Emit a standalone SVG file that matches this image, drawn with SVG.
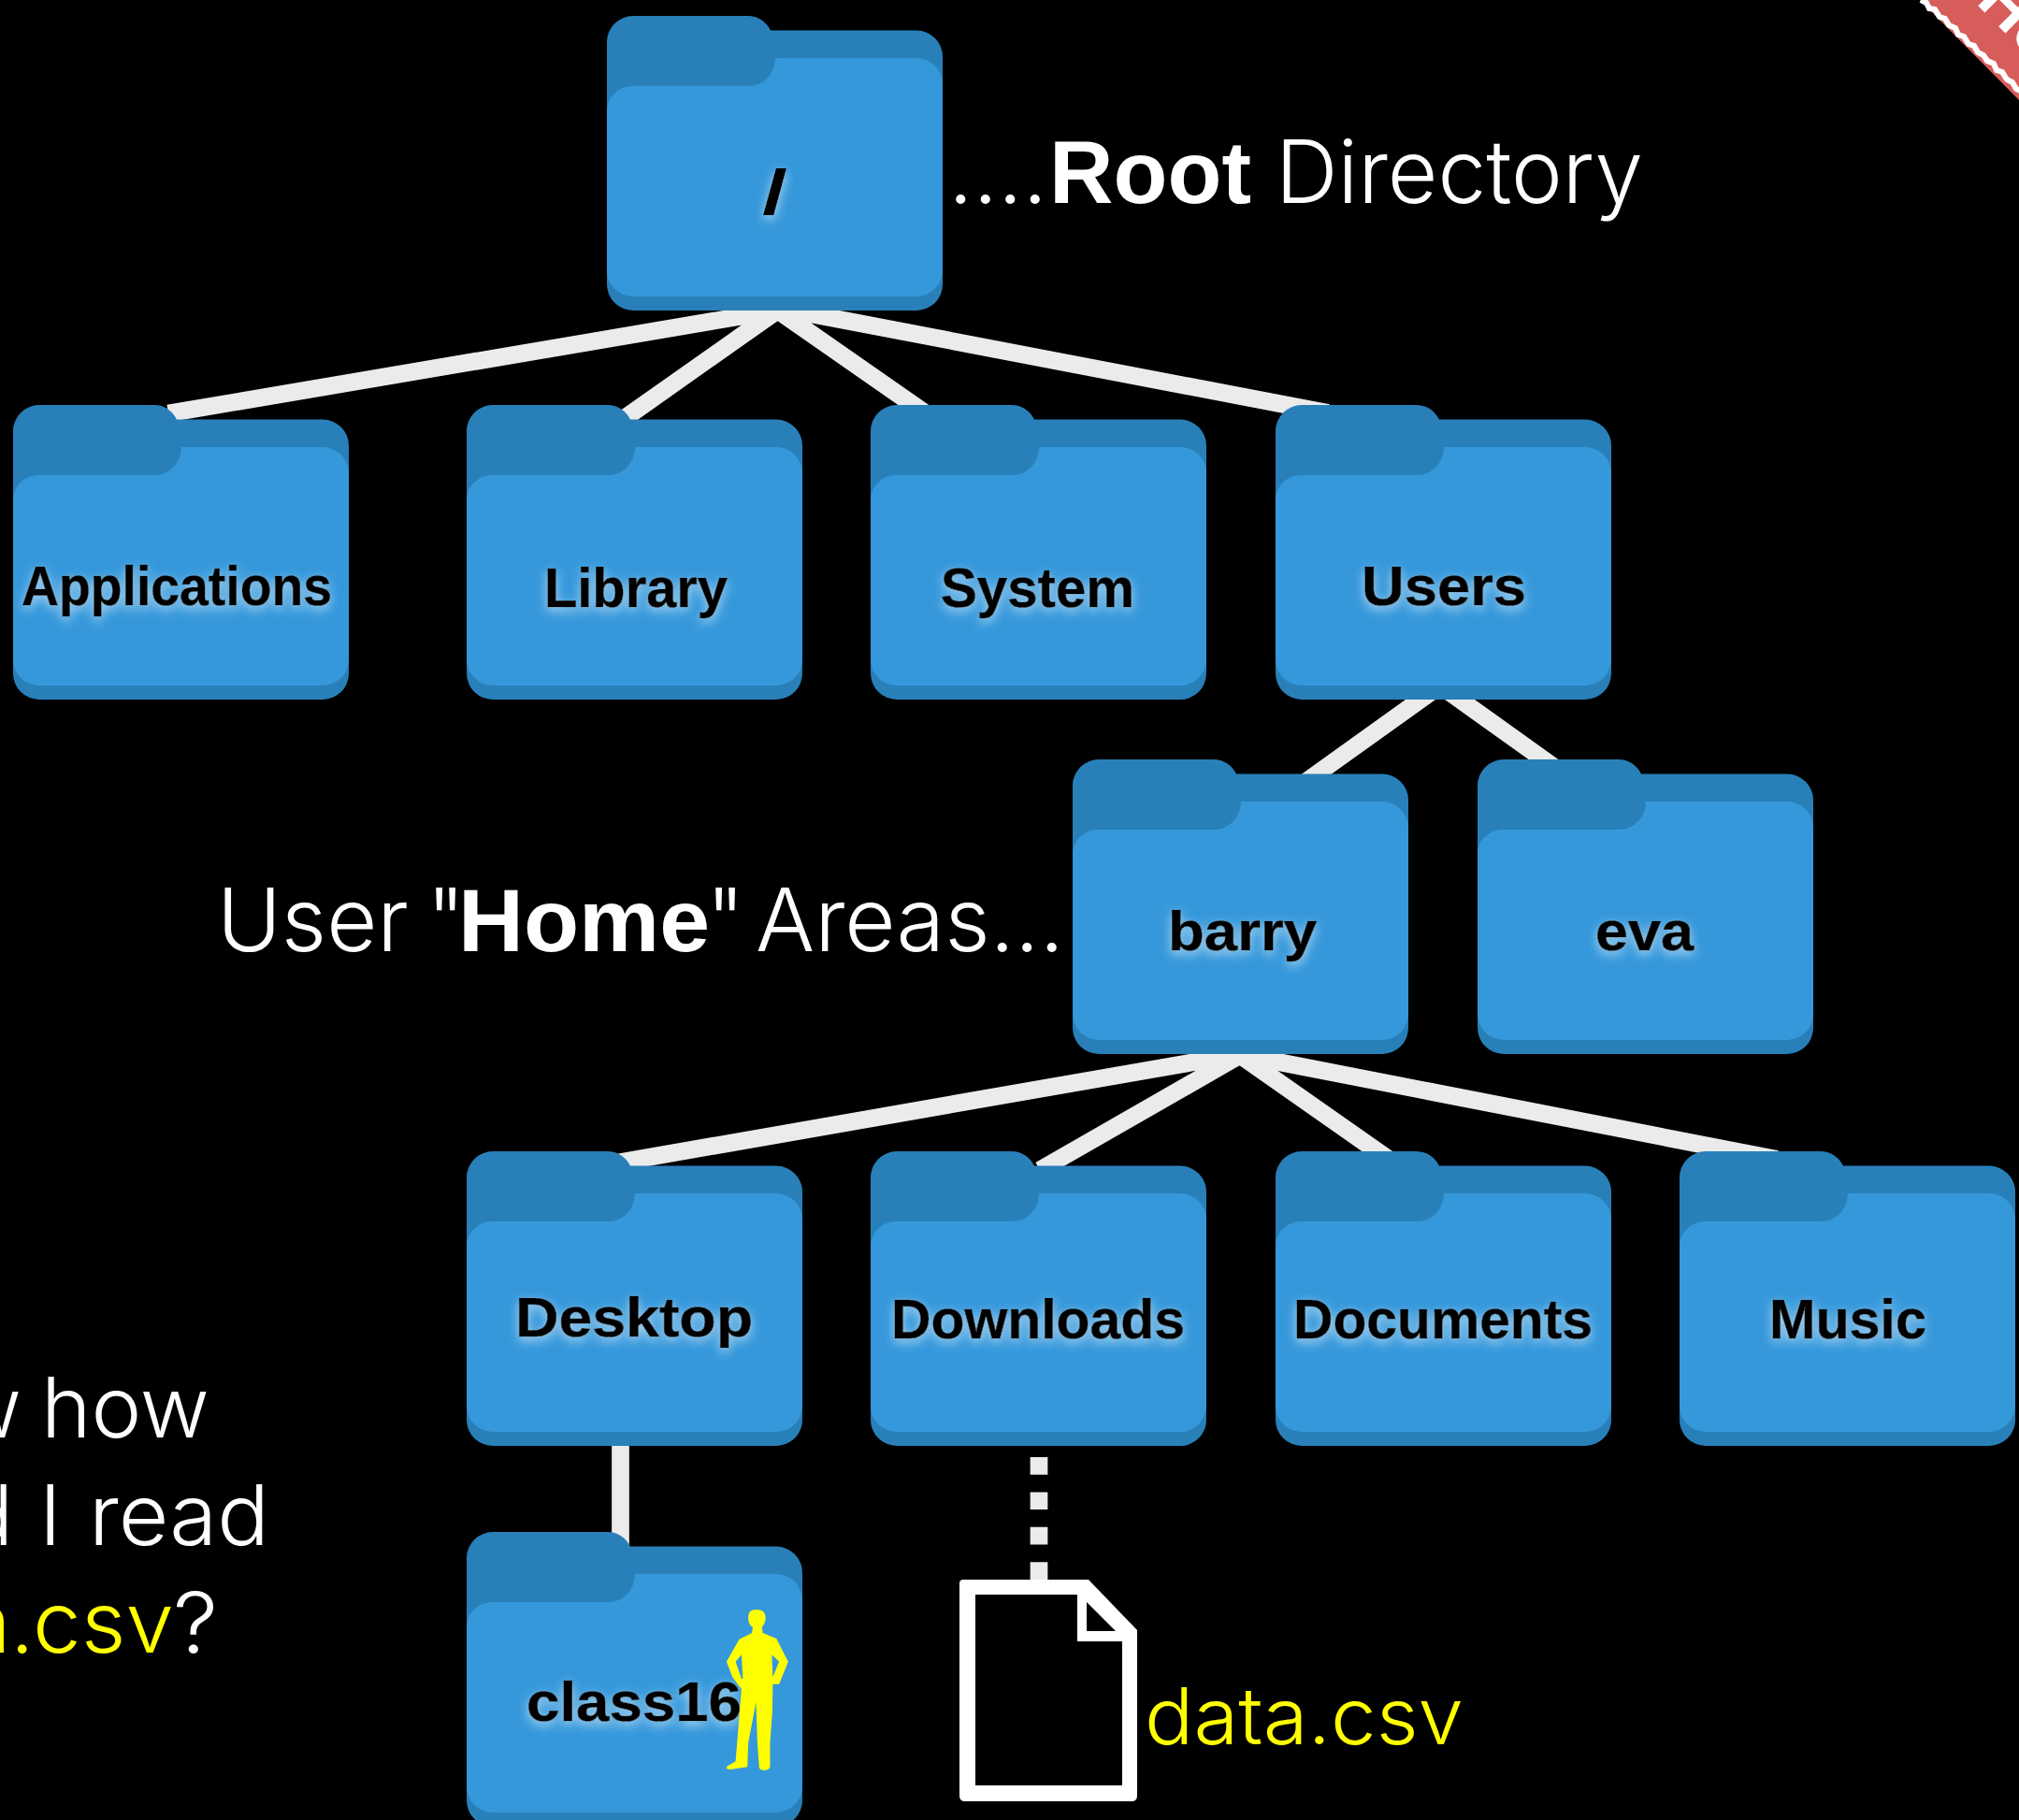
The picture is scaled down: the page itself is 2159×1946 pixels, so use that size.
<svg xmlns="http://www.w3.org/2000/svg" width="2159" height="1946" viewBox="0 0 2159 1946">
<style>
.back{fill:#2980b9}
.front{fill:#3598db}
.lbl{font-family:"Liberation Sans",Arial,sans-serif;font-weight:700;font-size:60px;fill:#000;stroke:#000;stroke-width:.7;filter:url(#glow)}
.big{font-family:Inter,"Liberation Sans",sans-serif;font-weight:300;font-size:94px;fill:#fff}
.mid{font-size:90px}
.b{font-family:"Liberation Sans",Arial,sans-serif;font-weight:700}
.y{fill:#ff0}
.conn{stroke:#ebebeb;stroke-width:18.700;fill:none}
</style>
<defs>
<filter id="glow" x="-20%" y="-40%" width="140%" height="180%"><feDropShadow dx="0" dy="4" stdDeviation="6" flood-color="#fff" flood-opacity="0.6"/></filter>
<g id="folder">
<path class="back" d="M28 0H150C162 0 170 6 175 15.500H331A28 28 0 0 1 359 43.500V287A28 28 0 0 1 331 315H28A28 28 0 0 1 0 287V28A28 28 0 0 1 28 0Z"/>
<path class="front" d="M0 102C0 87 12 75 28 75H152A28 30 0 0 0 180 45H331A28 28 0 0 1 359 73V272A28 28 0 0 1 331 300H28A28 28 0 0 1 0 272Z"/>
</g>
</defs>
<rect width="2159" height="1946" fill="#000"/>
<g id="badge">
<path d="M2053 0L2159 107V0Z" fill="#d65d5a"/>
<path d="M2054 0l6 3l3 6l6 1l5 8l6 2l4 7l7 3l3 7l6 2l5 8l6 2l4 7l6 3l4 6l7 3l3 7l6 2l5 8l6 3l4 7l6 3l3 6l4 4" fill="none" stroke="#fff" stroke-width="6"/>
<text transform="translate(2112 3) rotate(45)" font-family="Liberation Sans, Arial, sans-serif" font-weight="700" font-size="70" fill="#fff">Ho</text>
</g>
<g id="connectors" class="conn">
<path d="M832 331.500L180 442M834 330L664 450M829 330L994 445M832 329L1420 441.500"/>
<path d="M1540 733L1392 839M1540 733L1670 826"/>
<path d="M1326 1127L650 1245M1330 1126L1112 1251M1323 1126L1487 1241M1326 1127.500L1900 1239.500"/>
<path d="M663.500 1540V1655"/>
<path d="M1111 1558V1689" stroke-dasharray="18.700 18.700"/>
</g>
<g id="root"><use href="#folder" x="649" y="17"/><text class="lbl" style="font-size:66px;stroke:none" x="815" y="228" textLength="27" lengthAdjust="spacingAndGlyphs">/</text></g>
<g id="applications"><use href="#folder" x="14" y="433"/><text class="lbl" x="23" y="647" textLength="332" lengthAdjust="spacingAndGlyphs">Applications</text></g>
<g id="library"><use href="#folder" x="499" y="433"/><text class="lbl" x="582" y="649" textLength="196" lengthAdjust="spacingAndGlyphs">Library</text></g>
<g id="system"><use href="#folder" x="931" y="433"/><text class="lbl" x="1006" y="649" textLength="207" lengthAdjust="spacingAndGlyphs">System</text></g>
<g id="users"><use href="#folder" x="1364" y="433"/><text class="lbl" x="1456" y="647" textLength="176" lengthAdjust="spacingAndGlyphs">Users</text></g>
<g id="barry"><use href="#folder" x="1147" y="812"/><text class="lbl" x="1249" y="1016" textLength="159" lengthAdjust="spacingAndGlyphs">barry</text></g>
<g id="eva"><use href="#folder" x="1580" y="812"/><text class="lbl" x="1706" y="1016" textLength="105" lengthAdjust="spacingAndGlyphs">eva</text></g>
<g id="desktop"><use href="#folder" x="499" y="1231"/><text class="lbl" x="551" y="1429" textLength="254" lengthAdjust="spacingAndGlyphs">Desktop</text></g>
<g id="downloads"><use href="#folder" x="931" y="1231"/><text class="lbl" x="953" y="1431" textLength="314" lengthAdjust="spacingAndGlyphs">Downloads</text></g>
<g id="documents"><use href="#folder" x="1364" y="1231"/><text class="lbl" x="1383" y="1431" textLength="320" lengthAdjust="spacingAndGlyphs">Documents</text></g>
<g id="music"><use href="#folder" x="1796" y="1231"/><text class="lbl" x="1892" y="1431" textLength="168" lengthAdjust="spacingAndGlyphs">Music</text></g>
<g id="class16"><use href="#folder" x="499" y="1638"/><text class="lbl" x="563" y="1840" textLength="230" lengthAdjust="spacingAndGlyphs">class16</text>
<path transform="translate(490 1530) scale(.4847 .3333)" fill="#ff0" fill-rule="evenodd" d="M658 573C672 573 678 582 678 600C678 612 674 622 670 630L672 648L702 666L728 740L708 812L694 812L693 900L688 1000L688 1075C688 1092 666 1092 664 1080L660 1000L657 870L640 1000L638 1078L600 1086C590 1086 588 1078 598 1072L612 1060L618 950L625 828L605 790L592 740L620 668L648 648L650 630C642 622 640 612 640 600C640 582 644 573 658 573ZM625 718L612 740L625 795L628 795ZM692 718L708 740L694 790Z"/></g>
<g id="file">
<path fill="#fff" fill-rule="evenodd" d="M1030 1689H1164L1216 1743V1920Q1216 1926 1210 1926H1032Q1026 1926 1026 1920V1693Q1026 1689 1030 1689ZM1043 1705V1909H1200V1755H1152V1705ZM1162 1713V1744H1193Z"/>
</g>
<g id="captions">
<text class="big" y="216.500"><tspan x="1014" textLength="106">....</tspan><tspan class="b" x="1122" textLength="216" lengthAdjust="spacingAndGlyphs">Root</tspan> <tspan x="1364" textLength="393" lengthAdjust="spacingAndGlyphs">Directory</tspan></text>
<text class="big" y="1016.500"><tspan x="232" textLength="205" lengthAdjust="spacingAndGlyphs">User</tspan> <tspan x="456">"</tspan><tspan class="b" x="490" textLength="269" lengthAdjust="spacingAndGlyphs">Home</tspan><tspan x="755">"</tspan> <tspan x="808" textLength="330" lengthAdjust="spacingAndGlyphs">Areas...</tspan></text>
<text class="big mid" y="1537"><tspan x="-50" textLength="73" lengthAdjust="spacingAndGlyphs">w</tspan> <tspan x="44" textLength="180" lengthAdjust="spacingAndGlyphs">how</tspan></text>
<text class="big mid" y="1652"><tspan x="-40">d</tspan> <tspan x="42">I</tspan> <tspan x="95" textLength="193" lengthAdjust="spacingAndGlyphs">read</tspan></text>
<text class="big mid" y="1767"><tspan class="y" x="-38">a</tspan><tspan class="y" x="11">.</tspan><tspan class="y" x="35" textLength="151" lengthAdjust="spacingAndGlyphs">csv</tspan><tspan x="185" textLength="48" lengthAdjust="spacingAndGlyphs">?</tspan></text>
<text class="big y" style="font-size:84px" x="1224" y="1865" textLength="341" lengthAdjust="spacingAndGlyphs">data.csv</text>
</g>
</svg>
